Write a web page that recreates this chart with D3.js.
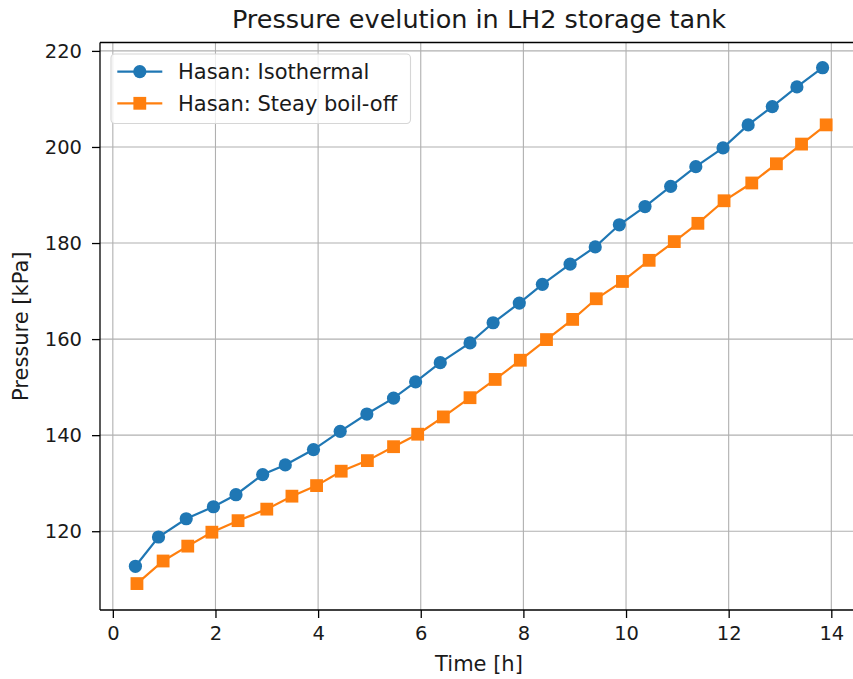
<!DOCTYPE html>
<html>
<head>
<meta charset="utf-8">
<script src="https://cdn.jsdelivr.net/npm/d3@7"></script>
<style>
  html, body { margin: 0; padding: 0; background: #fff; }
  svg { display: block; font-family: "DejaVu Sans", sans-serif; }
</style>
</head>
<body>
<svg id="chart" width="853" height="679"></svg>
<script>
// Time samples [h] and tank pressure [kPa] for each model
const isoTime = [0.44, 0.89, 1.43, 1.96, 2.40, 2.92, 3.36, 3.91, 4.43, 4.95, 5.47, 5.90, 6.38, 6.96,
                 7.41, 7.92, 8.37, 8.91, 9.40, 9.87, 10.37, 10.87, 11.36, 11.89, 12.38, 12.85, 13.33, 13.83];
const isoPressure = [112.7, 118.8, 122.6, 125.1, 127.6, 131.8, 133.8, 137.0, 140.8, 144.4, 147.7, 151.1, 155.1, 159.2,
                     163.4, 167.5, 171.4, 175.6, 179.2, 183.8, 187.6, 191.8, 195.9, 199.8, 204.6, 208.4, 212.5, 216.5];
const boilTime = [0.47, 0.98, 1.46, 1.93, 2.44, 3.00, 3.49, 3.97, 4.45, 4.96, 5.47, 5.94, 6.44, 6.96,
                  7.45, 7.94, 8.45, 8.96, 9.42, 9.93, 10.45, 10.94, 11.40, 11.91, 12.45, 12.93, 13.42, 13.90];
const boilPressure = [109.1, 113.8, 116.9, 119.8, 122.2, 124.6, 127.3, 129.5, 132.5, 134.7, 137.6, 140.2, 143.8, 147.8,
                      151.6, 155.6, 159.9, 164.1, 168.4, 172.0, 176.4, 180.3, 184.1, 188.8, 192.5, 196.5, 200.6, 204.6];
const xTicks = [0, 2, 4, 6, 8, 10, 12, 14];
const yTicks = [120, 140, 160, 180, 200, 220];
const seriesNames = ["Hasan: Isothermal", "Hasan: Steay boil-off"];
const seriesColors = ["#1f77b4", "#ff7f0e"];

const svg = d3.select("#chart");
const plot = { left: 100, right: 858, top: 42.5, bottom: 610 };

const x = d3.scaleLinear().domain([-0.25, 14.52]).range([plot.left, plot.right]);
const y = d3.scaleLinear().domain([103.6, 221.75]).range([plot.bottom, plot.top]);

const series = [
  { name: seriesNames[0], color: seriesColors[0], shape: "circle",
    pts: isoTime.map((t, i) => [t, isoPressure[i]]) },
  { name: seriesNames[1], color: seriesColors[1], shape: "square",
    pts: boilTime.map((t, i) => [t, boilPressure[i]]) }
];

// grid
const grid = svg.append("g").attr("stroke", "#b0b0b0").attr("stroke-width", 1.1);
xTicks.forEach(t => grid.append("line")
  .attr("x1", x(t)).attr("x2", x(t)).attr("y1", plot.top).attr("y2", plot.bottom));
yTicks.forEach(t => grid.append("line")
  .attr("x1", plot.left).attr("x2", plot.right).attr("y1", y(t)).attr("y2", y(t)));

// lines and markers
const line = d3.line().x(d => x(d[0])).y(d => y(d[1]));
series.forEach(s => {
  svg.append("path").datum(s.pts).attr("d", line)
    .attr("fill", "none").attr("stroke", s.color).attr("stroke-width", 2.2);
  const g = svg.append("g").attr("fill", s.color);
  if (s.shape === "circle") {
    g.selectAll("circle").data(s.pts).join("circle")
      .attr("cx", d => x(d[0])).attr("cy", d => y(d[1])).attr("r", 6.6);
  } else {
    g.selectAll("rect").data(s.pts).join("rect")
      .attr("x", d => x(d[0]) - 6.4).attr("y", d => y(d[1]) - 6.4)
      .attr("width", 12.8).attr("height", 12.8);
  }
});

// axes
const xAxis = d3.axisBottom(x).tickValues(xTicks).tickSize(8).tickPadding(8).tickFormat(d3.format("d"));
const yAxis = d3.axisLeft(y).tickValues(yTicks).tickSize(8).tickPadding(10).tickFormat(d3.format("d"));
const gx = svg.append("g").attr("transform", `translate(0,${plot.bottom})`).call(xAxis);
const gy = svg.append("g").attr("transform", `translate(${plot.left},0)`).call(yAxis);
[gx, gy].forEach(g => {
  g.select(".domain").remove();
  g.selectAll(".tick line").attr("stroke", "#000").attr("stroke-width", 1.3);
  g.selectAll(".tick text").attr("fill", "#1a1a1a").attr("font-size", 19.5)
    .attr("font-family", "DejaVu Sans");
});

// spines
const spines = svg.append("g").attr("stroke", "#000").attr("stroke-width", 1.3).attr("fill", "none");
spines.append("line").attr("x1", plot.left).attr("x2", plot.left).attr("y1", plot.top).attr("y2", plot.bottom);
spines.append("line").attr("x1", plot.left).attr("x2", plot.right).attr("y1", plot.bottom).attr("y2", plot.bottom);
spines.append("line").attr("x1", plot.left).attr("x2", plot.right).attr("y1", plot.top).attr("y2", plot.top);
spines.append("line").attr("x1", plot.right).attr("x2", plot.right).attr("y1", plot.top).attr("y2", plot.bottom);

// title and axis labels
svg.append("text").attr("x", (plot.left + plot.right) / 2).attr("y", 28)
  .attr("text-anchor", "middle").attr("font-size", 25.5).attr("fill", "#1a1a1a")
  .text("Pressure evelution in LH2 storage tank");
svg.append("text").attr("x", (plot.left + plot.right) / 2).attr("y", 671)
  .attr("text-anchor", "middle").attr("font-size", 21).attr("fill", "#1a1a1a")
  .text("Time [h]");
svg.append("text")
  .attr("transform", `translate(28,${(plot.top + plot.bottom) / 2}) rotate(-90)`)
  .attr("text-anchor", "middle").attr("font-size", 21).attr("fill", "#1a1a1a")
  .text("Pressure [kPa]");

// legend
const legend = svg.append("g");
legend.append("rect").attr("x", 111).attr("y", 54).attr("width", 299.5).attr("height", 69.5)
  .attr("rx", 4).attr("fill", "#fff").attr("fill-opacity", 0.8)
  .attr("stroke", "#d6d6d6").attr("stroke-width", 1.1);
const rowY = [71.7, 103.3];
series.forEach((s, i) => {
  const r = legend.append("g");
  r.append("line").attr("x1", 117.3).attr("x2", 162.3).attr("y1", rowY[i]).attr("y2", rowY[i])
    .attr("stroke", s.color).attr("stroke-width", 2.2);
  if (s.shape === "circle") {
    r.append("circle").attr("cx", 139.8).attr("cy", rowY[i]).attr("r", 6.6).attr("fill", s.color);
  } else {
    r.append("rect").attr("x", 139.8 - 6.4).attr("y", rowY[i] - 6.4)
      .attr("width", 12.8).attr("height", 12.8).attr("fill", s.color);
  }
  r.append("text").attr("x", 178).attr("y", rowY[i]).attr("dy", "0.36em")
    .attr("font-size", 21).attr("fill", "#1a1a1a").text(s.name);
});
</script>
</body>
</html>
